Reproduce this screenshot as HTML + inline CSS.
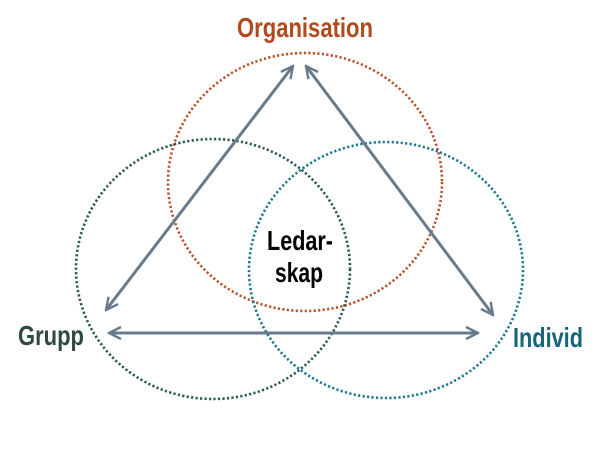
<!DOCTYPE html>
<html><head><meta charset="utf-8"><style>
html,body{margin:0;padding:0;background:#fff;width:600px;height:462px;overflow:hidden}
text{font-family:"Liberation Sans",sans-serif;font-weight:bold}
</style></head><body>
<svg width="600" height="462" viewBox="0 0 600 462" xmlns="http://www.w3.org/2000/svg">
<defs>
<marker id="a" viewBox="0 0 10 10" refX="9" refY="5" markerWidth="5" markerHeight="5" orient="auto-start-reverse" markerUnits="strokeWidth">
<path d="M1 1 L9 5 L1 9" fill="none" stroke="#687b8c" stroke-width="1.6"/>
</marker>
</defs>
<g fill="none" stroke-width="2.6" stroke-dasharray="2.2 2.3">
<ellipse cx="305" cy="182" rx="137" ry="129" stroke="#b9532c"/>
<ellipse cx="213" cy="269" rx="137" ry="130" stroke="#2a5a55"/>
<ellipse cx="386" cy="270" rx="137" ry="128" stroke="#1e7890"/>
</g>
<g stroke="#687b8c" stroke-width="3" fill="none">
<line x1="293" y1="66" x2="106" y2="310" marker-start="url(#a)" marker-end="url(#a)"/>
<line x1="306" y1="66" x2="493" y2="315" marker-start="url(#a)" marker-end="url(#a)"/>
<line x1="109" y1="333" x2="478" y2="333" marker-start="url(#a)" marker-end="url(#a)"/>
</g>
<text x="237" y="37" font-size="28" fill="#b24a1f" textLength="136" lengthAdjust="spacingAndGlyphs">Organisation</text>
<text x="18" y="345" font-size="28" fill="#2f4a40" textLength="66" lengthAdjust="spacingAndGlyphs">Grupp</text>
<text x="513" y="347" font-size="28" fill="#17657a" textLength="70" lengthAdjust="spacingAndGlyphs">Individ</text>
<text x="267" y="250" font-size="28" fill="#000" textLength="66" lengthAdjust="spacingAndGlyphs">Ledar-</text>
<text x="275" y="282" font-size="28" fill="#000" textLength="48" lengthAdjust="spacingAndGlyphs">skap</text>
</svg>
</body></html>
